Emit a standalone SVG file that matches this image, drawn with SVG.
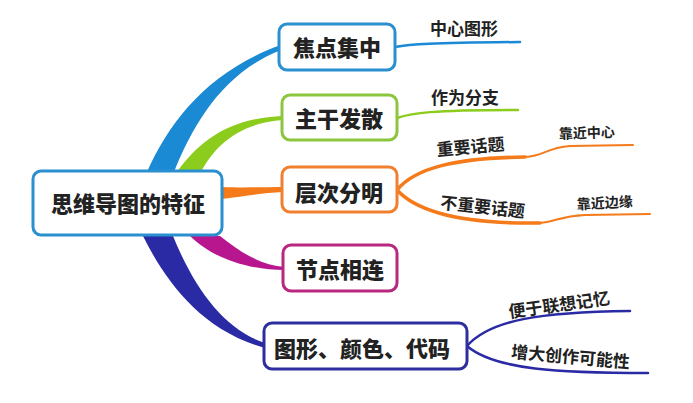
<svg xmlns="http://www.w3.org/2000/svg" width="693" height="403" viewBox="0 0 693 403">
<style>
.box{fill:#fff;stroke-width:3}
.t{font-family:"Noto Sans CJK SC","Noto Sans",sans-serif;font-weight:900;fill:#222;text-anchor:middle}
.big{font-size:22px}
.sm{font-size:17px;font-weight:bold}
.xs{font-size:14px;font-weight:bold}
.ln{fill:none;stroke-linecap:round}
</style>
<rect width="693" height="403" fill="#fff"/>
<g id="connectors">
  <path d="M147,172 C170,120 210,70 281,45 L281,50 C225,72 195,120 174,172 Z" fill="#1a8ad4"/>
  <path d="M177,172 C200,140 230,118 283,116 L283,120 C240,123 215,145 201,172 Z" fill="#8ccc1c"/>
  <path d="M222,187 C245,188 262,187 283,187 L283,192 C262,193 245,196 222,199 Z" fill="#f57a1a"/>
  <path d="M220,236 C240,252 260,265 285,267 L285,270 C245,270 210,256 190,236 Z" fill="#b8168f"/>
  <path d="M143,236 C165,280 200,330 265,348 L265,343 C225,330 195,290 173,236 Z" fill="#2a2aa5"/>
  <path class="ln" d="M395,47 C410,44 430,43 520,42" stroke="#1a8ad4" stroke-width="2.5"/>
  <path class="ln" d="M397,118 C412,113 430,110 518,110" stroke="#8ccc1c" stroke-width="2.5"/>
  <path class="ln" d="M397,190 C415,168 455,158 525,157" stroke="#f57a1a" stroke-width="3.5"/>
  <path class="ln" d="M525,157 C545,156 545,148 570,146 L633,145" stroke="#f57a1a" stroke-width="2"/>
  <path class="ln" d="M397,190 C420,215 470,224 540,223" stroke="#f57a1a" stroke-width="3.5"/>
  <path class="ln" d="M540,223 C555,222 560,216 585,215 L650,214" stroke="#f57a1a" stroke-width="2"/>
  <path class="ln" d="M467,346 C490,320 540,312 630,311" stroke="#2a2aa5" stroke-width="2.5"/>
  <path class="ln" d="M467,346 C495,370 560,373 648,373" stroke="#2a2aa5" stroke-width="2.5"/>
</g>
<g id="center">
  <rect class="box" x="33" y="171" width="189" height="64" rx="8" stroke="#2a90d0"/>
  <text class="t big" x="128" y="212">思维导图的特征</text>
</g>
<g id="n1">
  <rect class="box" x="279" y="24" width="116" height="46" rx="8" stroke="#2a90d0"/>
  <text class="t big" x="337" y="56">焦点集中</text>
</g>
<g id="n1a"><text class="t sm" x="464" y="35">中心图形</text></g>
<g id="n2">
  <rect class="box" x="282" y="95" width="115" height="45" rx="8" stroke="#8cc63f"/>
  <text class="t big" x="339" y="127">主干发散</text>
</g>
<g id="n2a"><text class="t sm" x="465" y="104">作为分支</text></g>
<g id="n3">
  <rect class="box" x="282" y="167" width="115" height="45" rx="8" stroke="#f08030"/>
  <text class="t big" x="339" y="201">层次分明</text>
</g>
<g id="n3a"><text class="t sm" transform="translate(471,153) rotate(-5)">重要话题</text></g>
<g id="n3a1"><text class="t xs" transform="translate(587,138) rotate(-2)">靠近中心</text></g>
<g id="n3b"><text class="t sm" transform="translate(482,213) rotate(6)">不重要话题</text></g>
<g id="n3b1"><text class="t xs" transform="translate(605,208) rotate(-3)">靠近边缘</text></g>
<g id="n4">
  <rect class="box" x="283" y="245" width="114" height="46" rx="8" stroke="#b8287f"/>
  <text class="t big" x="340" y="278">节点相连</text>
</g>
<g id="n5">
  <rect class="box" x="264" y="323" width="203" height="46" rx="8" stroke="#2e2e9e"/>
  <text class="t big" x="362" y="357">图形、颜色、代码</text>
</g>
<g id="n5a"><text class="t sm" transform="translate(560,311) rotate(-8)">便于联想记忆</text></g>
<g id="n5b"><text class="t sm" transform="translate(570,363) rotate(5)">增大创作可能性</text></g>
</svg>
